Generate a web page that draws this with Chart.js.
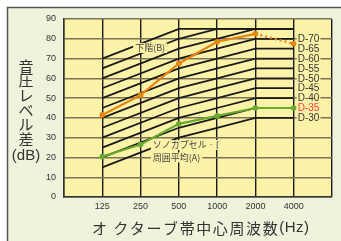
<!DOCTYPE html>
<html lang="ja">
<head>
<meta charset="UTF-8">
<title>オクターブ帯中心周波数と音圧レベル差</title>
<script src="https://cdn.jsdelivr.net/npm/chart.js"></script>
<style>
  html, body { margin: 0; padding: 0; background: #fff; }
  canvas { display: block; }
</style>
</head>
<body>
<canvas id="dChart" width="341" height="241"></canvas>
<script>
// octave band centre frequencies (blank slots pad both ends)
const freqLabels = ['', '125', '250', '500', '1000', '2000', '4000', ''];

// D-curves (values at 125, 500, 1000, 2000, 4000 Hz; 250 Hz sits on the straight segment)
const dCurves = [
  [null, 15, null, 30, 35, 40, 40, null],  // D-30
  [null, 20, null, 35, 40, 45, 45, null],  // D-35
  [null, 25, null, 40, 45, 50, 50, null],  // D-40
  [null, 30, null, 45, 50, 55, 55, null],  // D-45
  [null, 35, null, 50, 55, 60, 60, null],  // D-50
  [null, 40, null, 55, 60, 65, 65, null],  // D-55
  [null, 45, null, 60, 65, 70, 70, null],  // D-60
  [null, 50, null, 65, 70, 75, 75, null],  // D-65
  [null, 55, null, 70, 75, 80, 80, null],  // D-70
  [null, 60, null, 75, 80, 85, 85, null],  // D-75 (cut at 85)
  [null, 65, null, 80, 85, 85, 85, null],  // D-80
  [null, 70, null, 85, 85, 85, 85, null]   // D-85
];
const dLabels = ['D-30', 'D-35', 'D-40', 'D-45', 'D-50', 'D-55', 'D-60', 'D-65', 'D-70'];

// measured curves
const lowerFloor = [null, 41.5, 51.5, 67.5, 78.5, 82.5, 77.5, null];   // 下階(B)
const capsuleAvg = [null, 20.5, 26.5, 37, 41, 45, 45, null];          // ソノカプセル周囲平均(A)

const ORANGE = '#e8850f';
const GREEN = '#6aab2f';
const PLOT_BG = '#fdf3a8';
const FRAME_BG = '#eef3dc';
const CJK = '"Noto Sans CJK JP", sans-serif';
const LAT = '"Liberation Sans", Arial, sans-serif';

const backdrop = {
  id: 'backdrop',
  beforeDraw(chart) {
    const { ctx, chartArea: a, width, height } = chart;
    ctx.save();
    ctx.fillStyle = '#fff';
    ctx.fillRect(0, 0, width, height);
    ctx.fillStyle = FRAME_BG;
    ctx.fillRect(7, 7, width - 7, height - 7);
    ctx.strokeStyle = '#555';
    ctx.lineWidth = 1.5;
    ctx.beginPath();
    ctx.moveTo(7.5, height);
    ctx.lineTo(7.5, 7.5);
    ctx.lineTo(width, 7.5);
    ctx.stroke();
    ctx.fillStyle = PLOT_BG;
    ctx.fillRect(a.left, a.top, a.right - a.left, a.bottom - a.top);
    ctx.restore();
  }
};

const labels = {
  id: 'labels',
  afterDatasetsDraw(chart) {
    const { ctx, scales: { x, y }, chartArea: a } = chart;
    ctx.save();
    ctx.textBaseline = 'middle';

    // D-number labels at the right end of each curve
    ctx.font = '10px ' + LAT;
    dLabels.forEach((name, i) => {
      const px = x.getPixelForValue(6) + 4;
      const py = y.getPixelForValue(dCurves[i][6]);
      const w = ctx.measureText(name).width;
      ctx.fillStyle = PLOT_BG;
      ctx.fillRect(px - 1, py - 5, w + 2, 10);
      ctx.fillStyle = name === 'D-35' ? '#f03a3a' : '#333';
      ctx.fillText(name, px, py + 0.5);
    });

    // curve names
    ctx.font = '9px ' + CJK;
    const tag = (text, xv, yv, align) => {
      const w = ctx.measureText(text).width;
      let px = x.getPixelForValue(xv);
      if (align === 'center') px -= w / 2;
      const py = y.getPixelForValue(yv);
      ctx.fillStyle = PLOT_BG;
      ctx.fillRect(px - 2, py - 5, w + 4, 10);
      ctx.fillStyle = '#444';
      ctx.fillText(text, px, py);
    };
    tag('下階(B)', 2.25, 75.3, 'center');
    tag('ソノカプセル‐⌈', 2.32, 26.3, 'left');
    tag('周囲平均(A)', 2.32, 20, 'left');

    // y axis title, stacked
    ctx.fillStyle = '#333';
    ctx.textAlign = 'center';
    ctx.font = '15px ' + CJK;
    ['音', '圧', 'レ', 'ベ', 'ル', '差'].forEach((c, i) => {
      ctx.fillText(c, 26, 66 + i * 14.6);
    });
    ctx.font = '15px ' + LAT;
    ctx.fillText('(dB)', 26, 156);

    // x axis title, spaced
    ctx.textAlign = 'left';
    const title = ['オ', ' ', 'ク', 'タ', 'ー', 'ブ', '帯', '中', '心', '周', '波', '数', '(', 'H', 'z', ')'];
    let cx = 92;
    title.forEach(c => {
      const latin = /[()Hz ]/.test(c);
      ctx.font = '15px ' + (latin ? LAT : CJK);
      ctx.fillText(c, cx, 228);
      cx += ctx.measureText(c).width + (latin ? 0.5 : 1.6);
    });
    ctx.restore();
  }
};

const datasets = [
  {
    data: lowerFloor,
    borderColor: ORANGE,
    backgroundColor: ORANGE,
    borderWidth: 2.2,
    pointRadius: 2.8,
    pointBorderWidth: 0,
    segment: { borderDash: c => (c.p1DataIndex === 6 ? [2, 3] : undefined) }
  },
  {
    data: capsuleAvg,
    borderColor: GREEN,
    backgroundColor: GREEN,
    borderWidth: 2.2,
    pointRadius: 2.8,
    pointBorderWidth: 0
  }
].concat(dCurves.map(vals => ({
  data: vals,
  borderColor: '#1a1a1a',
  borderWidth: 1.8,
  pointRadius: 0,
  spanGaps: true
})));

new Chart(document.getElementById('dChart').getContext('2d'), {
  type: 'line',
  data: { labels: freqLabels, datasets: datasets },
  options: {
    responsive: false,
    animation: false,
    layout: { padding: { left: 0, right: 9, top: 19, bottom: 0 } },
    plugins: { legend: { display: false }, tooltip: { enabled: false } },
    scales: {
      x: {
        afterFit: s => { s.height = 44; },
        grid: { color: '#1a1a1a', lineWidth: 1.4, drawTicks: false },
        border: { color: '#333', width: 1.5 },
        ticks: { font: { size: 9, family: LAT }, color: '#333', padding: 4, autoSkip: false, maxRotation: 0 }
      },
      y: {
        min: 0,
        max: 90,
        afterFit: s => { s.width = 64; },
        grid: { color: '#7d7458', lineWidth: 1.4, drawTicks: false },
        border: { color: '#333', width: 1.5 },
        ticks: { stepSize: 10, font: { size: 9, family: LAT }, color: '#333', padding: 8 }
      }
    }
  },
  plugins: [backdrop, labels]
});
</script>
</body>
</html>
